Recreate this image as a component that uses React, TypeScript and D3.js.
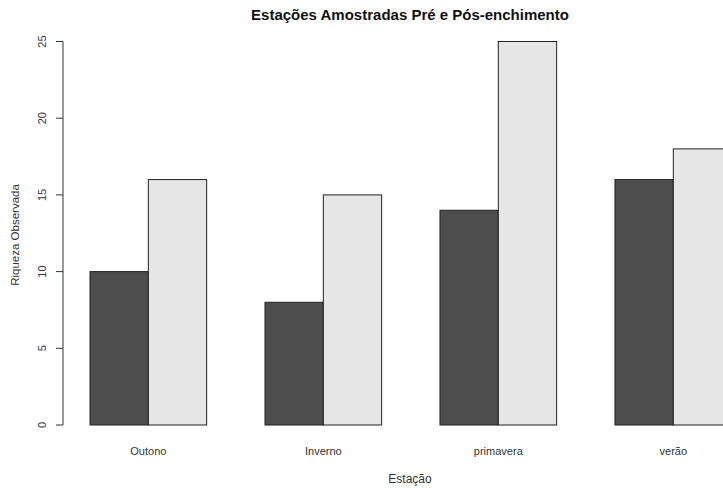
import React from "react";
import * as d3 from "d3";

const categories = ["Outono", "Inverno", "primavera", "verão"];
const seriesPre = [10, 8, 14, 16];
const seriesPos = [16, 15, 25, 18];
const yTicks = [0, 5, 10, 15, 20, 25];
const seriesColors = ["#4d4d4d", "#e6e6e6"];

const W = 723;
const H = 488;

export default function App() {
  const y = d3.scaleLinear().domain([0, 25]).range([425, 41.5]);
  // bar units: group g, bar i starts at unit 3g + 1 + i
  const x = d3.scaleLinear().domain([1, 13]).range([90, 90 + 12 * 58.33]);
  const series = [seriesPre, seriesPos];
  const font = "'Liberation Sans', Arial, sans-serif";

  return (
    <svg width={W} height={H} style={{ position: "absolute", left: 0, top: 0, background: "#fff" }}>
      <text x={410} y={20} textAnchor="middle" fontFamily={font} fontWeight="bold" fontSize={15} fill="#111">
        Estações Amostradas Pré e Pós-enchimento
      </text>
      {categories.map((c, g) =>
        series.map((s, i) => {
          const u = 3 * g + 1 + i;
          const x0 = x(u);
          const x1 = x(u + 1);
          return (
            <rect
              key={c + i}
              x={x0}
              y={y(s[g])}
              width={x1 - x0}
              height={y(0) - y(s[g])}
              fill={seriesColors[i]}
              stroke="#222"
              strokeWidth={1}
            />
          );
        })
      )}
      <line x1={63} x2={63} y1={y(0)} y2={y(25)} stroke="#333" />
      {yTicks.map((t) => (
        <g key={t}>
          <line x1={56} x2={63} y1={y(t)} y2={y(t)} stroke="#333" />
          <text
            transform={`translate(46,${y(t)}) rotate(-90)`}
            textAnchor="middle"
            fontFamily={font}
            fontSize={11}
            fill="#333"
          >
            {t}
          </text>
        </g>
      ))}
      {categories.map((c, g) => (
        <text key={c} x={x(3 * g + 2)} y={455} textAnchor="middle" fontFamily={font} fontSize={11} fill="#333">
          {c}
        </text>
      ))}
      <text x={410} y={483} textAnchor="middle" fontFamily={font} fontSize={12} fill="#333">
        Estação
      </text>
      <text
        transform={`translate(19,235) rotate(-90)`}
        textAnchor="middle"
        fontFamily={font}
        fontSize={11.5}
        fill="#333"
      >
        Riqueza Observada
      </text>
    </svg>
  );
}
